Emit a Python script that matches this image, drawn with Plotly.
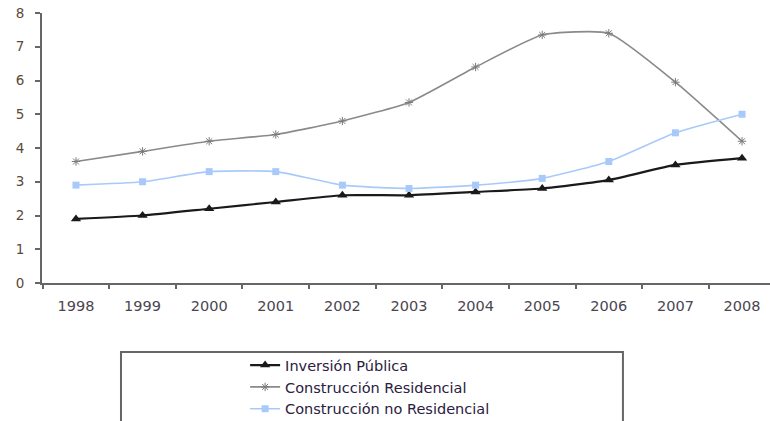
import plotly.graph_objects as go

years = ["1998", "1999", "2000", "2001", "2002", "2003", "2004", "2005", "2006", "2007", "2008"]
inversion_publica = [1.9, 2.0, 2.2, 2.4, 2.6, 2.6, 2.7, 2.8, 3.05, 3.5, 3.7]
construccion_residencial = [3.6, 3.9, 4.2, 4.4, 4.8, 5.35, 6.4, 7.35, 7.4, 5.95, 4.2]
construccion_no_residencial = [2.9, 3.0, 3.3, 3.3, 2.9, 2.8, 2.9, 3.1, 3.6, 4.45, 5.0]
y_ticks = [0, 1, 2, 3, 4, 5, 6, 7, 8]

fig = go.Figure()
fig.add_trace(go.Scatter(
    x=years, y=inversion_publica, name="Inversión Pública",
    mode="lines+markers", line=dict(color="#1a1a1a", width=2.2, shape="spline", smoothing=0.5),
    marker=dict(symbol="triangle-up", size=9, color="#1a1a1a")))
fig.add_trace(go.Scatter(
    x=years, y=construccion_residencial, name="Construcción Residencial",
    mode="lines+markers", line=dict(color="#8a8a8a", width=1.6, shape="spline", smoothing=0.5),
    marker=dict(symbol="asterisk-open", size=7, color="#7a7a7a", line=dict(color="#7a7a7a", width=1))))
fig.add_trace(go.Scatter(
    x=years, y=construccion_no_residencial, name="Construcción no Residencial",
    mode="lines+markers", line=dict(color="#a9c9fb", width=1.6, shape="spline", smoothing=0.5),
    marker=dict(symbol="square", size=7, color="#a9c9fb")))

fig.update_layout(
    width=770, height=421,
    margin=dict(l=42, r=0, t=13, b=138, autoexpand=False),
    plot_bgcolor="white", paper_bgcolor="white",
    font=dict(family="DejaVu Sans, Verdana, sans-serif", size=14, color="#4a4a4a"),
    xaxis=dict(type="category", range=[-0.51, 10.42], showgrid=False, zeroline=False,
               showline=True, linecolor="#666666", linewidth=2, automargin=False,
               ticks="outside", ticklen=4, tickcolor="#666666", tickwidth=1.5,
               tickson="boundaries", ticklabelstandoff=9,
               tickfont=dict(size=14.5, color="#4a4550")),
    yaxis=dict(range=[0, 8], tickvals=y_ticks, showgrid=False, zeroline=False,
               showline=True, linecolor="#666666", linewidth=2, automargin=False,
               ticks="outside", ticklen=5, tickcolor="#666666", tickwidth=1.5,
               ticklabelstandoff=8,
               tickfont=dict(size=13.5, color="#5a4a3a")),
    showlegend=True,
    legend=dict(x=0.279, y=-0.245, xanchor="left", yanchor="top",
                bgcolor="rgba(0,0,0,0)", borderwidth=0,
                font=dict(size=14.5, color="#2a2040"), tracegroupgap=0, itemwidth=30),
    shapes=[dict(type="rect", xref="paper", yref="paper",
                 x0=0.1085, x1=0.798, y0=-0.2556, y1=-0.7,
                 line=dict(color="#666666", width=2))],
)

fig.write_html("out.html")
